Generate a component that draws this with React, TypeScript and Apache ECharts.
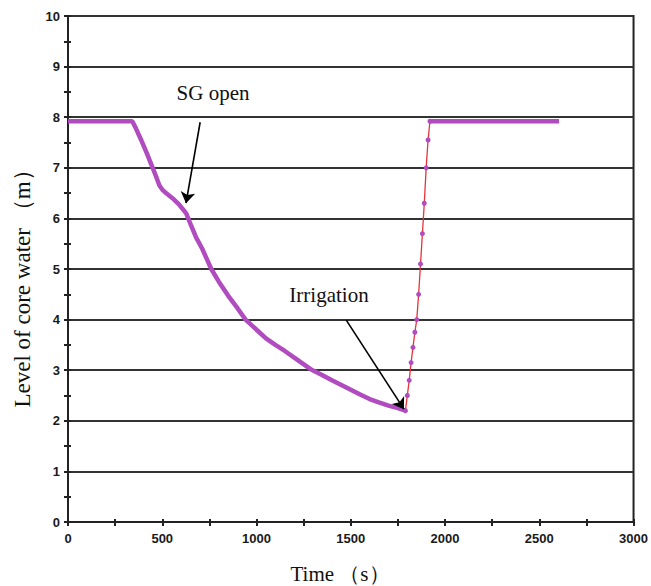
import React, { useEffect, useRef } from "react";
import * as echarts from "echarts";

// Flat start + descent (s, m)
const descentTime = [0, 100, 200, 300, 341, 360, 388, 420, 449, 470, 485, 500, 520, 554, 590, 627, 654, 680, 712, 760, 800, 850, 900, 942, 1000, 1050, 1100, 1150, 1200, 1287, 1350, 1400, 1471, 1550, 1600, 1645, 1700, 1750, 1790];
const descentLevel = [7.92, 7.92, 7.92, 7.92, 7.92, 7.78, 7.55, 7.27, 7.0, 6.8, 6.65, 6.57, 6.5, 6.4, 6.27, 6.1, 5.85, 5.62, 5.4, 5.0, 4.75, 4.47, 4.22, 4.0, 3.8, 3.63, 3.5, 3.38, 3.25, 3.02, 2.9, 2.8, 2.67, 2.52, 2.43, 2.37, 2.3, 2.25, 2.2];

// Irrigation rise
const riseTime = [1790, 1800, 1810, 1820, 1830, 1840, 1850, 1860, 1870, 1880, 1890, 1900, 1910, 1920];
const riseLevel = [2.2, 2.5, 2.8, 3.15, 3.45, 3.75, 4.0, 4.5, 5.1, 5.7, 6.3, 7.0, 7.55, 7.92];

// Flat after recovery
const topTime = [1920, 2000, 2100, 2200, 2300, 2400, 2500, 2605];
const topLevel = [7.92, 7.92, 7.92, 7.92, 7.92, 7.92, 7.92, 7.92];

const xTicks = [0, 500, 1000, 1500, 2000, 2500, 3000];
const yTicks = [0, 1, 2, 3, 4, 5, 6, 7, 8, 9, 10];

const sgArrow = [[701, 7.9], [626, 6.3]];
const irrArrow = [[1476, 3.99], [1782, 2.23]];

const PURPLE = "#b04cbf";
const RED = "#e8323a";

export default function App() {
  const ref = useRef<HTMLDivElement>(null);
  useEffect(() => {
    if (!ref.current) return;
    const chart = echarts.init(ref.current, undefined, { renderer: "svg" });
    const mainData: any[] = descentTime.map((t, i) => [t, descentLevel[i]]);
    mainData.push([null, null]);
    topTime.forEach((t, i) => mainData.push([t, topLevel[i]]));
    const riseData = riseTime.map((t, i) => [t, riseLevel[i]]);

    const labelStyle = {
      fontFamily: "Liberation Sans, Arial, sans-serif",
      fontWeight: "bold" as const,
      fontSize: 13,
      color: "#1a1a1a",
      formatter: (v: number) => String(v),
    };
    const baseX = {
      type: "value" as const,
      min: xTicks[0],
      max: xTicks[xTicks.length - 1],
      interval: 500,
      position: "bottom" as const,
      splitLine: { show: false },
    };
    const baseY = {
      type: "value" as const,
      min: yTicks[0],
      max: yTicks[yTicks.length - 1],
      interval: 1,
      position: "left" as const,
    };

    chart.setOption({
      animation: false,
      backgroundColor: "#fff",
      grid: {
        left: 68,
        right: 14,
        top: 16,
        bottom: 64,
        show: true,
        borderColor: "#222",
        borderWidth: 2,
        backgroundColor: "transparent",
      },
      xAxis: [
        {
          ...baseX,
          axisLine: { show: true, lineStyle: { color: "#222", width: 2 } },
          axisTick: { show: true, length: 4, lineStyle: { color: "#222", width: 2 } },
          minorTick: { show: true, splitNumber: 2, length: 4, lineStyle: { color: "#222", width: 2 } },
          axisLabel: { ...labelStyle, margin: 10 },
        },
        {
          ...baseX,
          axisLine: { show: false },
          axisTick: { show: true, inside: true, length: 3, lineStyle: { color: "#222", width: 2 } },
          minorTick: { show: true, splitNumber: 2, length: 3, lineStyle: { color: "#222", width: 2 } },
          axisLabel: { show: false },
        },
      ],
      yAxis: [
        {
          ...baseY,
          axisLine: { show: true, lineStyle: { color: "#222", width: 2 } },
          axisTick: { show: true, length: 4, lineStyle: { color: "#222", width: 2 } },
          minorTick: { show: true, splitNumber: 2, length: 4, lineStyle: { color: "#222", width: 2 } },
          splitLine: { show: true, lineStyle: { color: "#333", width: 2 } },
          axisLabel: { ...labelStyle, margin: 8 },
        },
        {
          ...baseY,
          axisLine: { show: false },
          axisTick: { show: true, inside: true, length: 3, lineStyle: { color: "#222", width: 2 } },
          minorTick: { show: true, splitNumber: 2, length: 3, lineStyle: { color: "#222", width: 2 } },
          splitLine: { show: false },
          axisLabel: { show: false },
        },
      ],
      series: [
        {
          type: "line",
          data: mainData,
          connectNulls: false,
          showSymbol: false,
          lineStyle: { color: PURPLE, width: 4.5 },
          itemStyle: { color: PURPLE },
          silent: true,
          markLine: {
            silent: true,
            symbol: ["none", "arrow"],
            symbolSize: 11,
            label: { show: false },
            lineStyle: { color: "#000", width: 1.6, type: "solid" },
            data: [
              [{ coord: sgArrow[0] }, { coord: sgArrow[1] }],
              [{ coord: irrArrow[0] }, { coord: irrArrow[1] }],
            ],
          },
        },
        {
          type: "line",
          data: riseData,
          symbol: "circle",
          symbolSize: 5,
          showSymbol: true,
          lineStyle: { color: RED, width: 1.3 },
          itemStyle: { color: PURPLE },
          silent: true,
        },
      ],
      graphic: [
        {
          type: "text",
          x: 213,
          y: 93,
          style: {
            text: "SG open",
            font: "21px 'Liberation Serif', 'Times New Roman', serif",
            fill: "#111",
            textAlign: "center",
            textVerticalAlign: "middle",
          },
        },
        {
          type: "text",
          x: 329,
          y: 295,
          style: {
            text: "Irrigation",
            font: "21px 'Liberation Serif', 'Times New Roman', serif",
            fill: "#111",
            textAlign: "center",
            textVerticalAlign: "middle",
          },
        },
        {
          type: "text",
          x: 340,
          y: 574,
          style: {
            text: "Time （s）",
            font: "21px 'Liberation Serif', 'Times New Roman', serif",
            fill: "#111",
            textAlign: "center",
            textVerticalAlign: "middle",
          },
        },
        {
          type: "text",
          x: 22,
          y: 283,
          rotation: Math.PI / 2,
          style: {
            text: "Level of core water （m）",
            font: "23px 'Liberation Serif', 'Times New Roman', serif",
            fill: "#111",
            textAlign: "center",
            textVerticalAlign: "middle",
          },
        },
      ],
    });
    return () => chart.dispose();
  }, []);
  return <div ref={ref} style={{ width: 651, height: 586, position: "absolute", left: 0, top: 0 }} />;
}
